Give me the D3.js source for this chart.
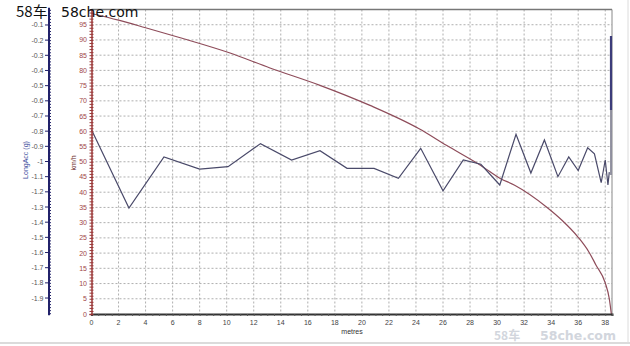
<!DOCTYPE html>
<html>
<head>
<meta charset="utf-8">
<script src="https://cdn.jsdelivr.net/npm/d3@7"></script>
<style>
  body { margin: 0; background: #fff; }
  svg { display: block; font-family: "Liberation Sans", Arial, sans-serif; }
</style>
</head>
<body>
<svg id="chart" width="630" height="346"></svg>
<script>
// speed trace (km/h) against distance
const speedDist = [0, 2, 4, 6.5, 10.25, 13.2, 16.9, 20.6, 24.2, 26.25, 28.96, 30.2, 31.3, 33.7, 34.8, 36, 36.8, 37.3, 38, 38.3, 38.45]
const speedKmh = [98.7, 96.5, 94, 90.8, 85.7, 80.8, 75.1, 68.5, 60.9, 55.4, 48.3, 44.6, 42.3, 35, 30.8, 25.2, 20.3, 16.2, 10.2, 5, 0]

// longitudinal acceleration (g) against distance
const accDist = [0, 2.77, 5.36, 8, 10.1, 12.5, 14.8, 16.9, 18.9, 20.9, 22.7, 24.35, 26, 27.5, 28.8, 30.2, 31.4, 32.5, 33.5, 34.5, 35.3, 36, 36.7, 37.2, 37.7, 38, 38.2, 38.3]
const accG = [-0.79, -1.307, -0.97, -1.05, -1.034, -0.882, -0.99, -0.929, -1.045, -1.045, -1.111, -0.913, -1.193, -0.99, -1.018, -1.155, -0.82, -1.076, -0.858, -1.1, -0.97, -1.06, -0.91, -0.95, -1.14, -0.99, -1.155, -1.07]

// tick labels
const xTicks = d3.range(0, 39, 2)
const speedTicks = d3.range(0, 100, 5)
const accTicks = d3.range(-0.1, -1.95, -0.1).map(v => +v.toFixed(1))

const svg = d3.select('#chart')

const x = d3.scaleLinear().domain([0, 38.5]).range([91.5, 612])
const ySpeed = d3.scaleLinear().domain([0, 100]).range([314, 9.5])
const yAcc = d3.scaleLinear().domain([-2, 0]).range([313.2, 9.8])

// grid
const grid = svg.append('g')
grid.selectAll('.vgrid')
  .data(xTicks.filter(d => d > 0))
  .enter()
  .append('line')
  .attr('x1', d => x(d)).attr('x2', d => x(d))
  .attr('y1', ySpeed(100)).attr('y2', ySpeed(0))
  .attr('stroke', '#9a9a9a')
  .attr('stroke-width', 0.8)
  .attr('stroke-dasharray', '2,2')
grid.selectAll('.hgrid')
  .data(speedTicks.filter(d => d > 0))
  .enter()
  .append('line')
  .attr('x1', x(0)).attr('x2', x(38.5))
  .attr('y1', d => ySpeed(d)).attr('y2', d => ySpeed(d))
  .attr('stroke', '#9a9a9a')
  .attr('stroke-width', 0.8)
  .attr('stroke-dasharray', '2,2')

// frame top / right
svg.append('line')
  .attr('x1', x(0)).attr('x2', x(38.5))
  .attr('y1', ySpeed(100)).attr('y2', ySpeed(100))
  .attr('stroke', '#777').attr('stroke-width', 1.5)
svg.append('line')
  .attr('x1', x(38.5)).attr('x2', x(38.5))
  .attr('y1', ySpeed(100)).attr('y2', ySpeed(0))
  .attr('stroke', '#888').attr('stroke-width', 1)
svg.append('line')
  .attr('x1', x(38.5) - 1).attr('x2', x(38.5) - 1)
  .attr('y1', 36).attr('y2', 110)
  .attr('stroke', '#3c3c7a').attr('stroke-width', 2.2)
svg.append('line')
  .attr('x1', x(38.5) - 1).attr('x2', x(38.5) - 1)
  .attr('y1', 110).attr('y2', 175)
  .attr('stroke', '#8a8a9a').attr('stroke-width', 1.8)

// lines
svg.append('path')
  .datum(d3.zip(speedDist, speedKmh))
  .attr('fill', 'none')
  .attr('stroke', '#8e4c5a')
  .attr('stroke-width', 1.2)
  .attr('d', d3.line().x(d => x(d[0])).y(d => ySpeed(d[1])).curve(d3.curveMonotoneX))

svg.append('path')
  .datum(d3.zip(accDist, accG))
  .attr('fill', 'none')
  .attr('stroke', '#4a4a6a')
  .attr('stroke-width', 1.2)
  .attr('d', d3.line().x(d => x(d[0])).y(d => yAcc(d[1])))

// bottom axis
const xAxis = svg.append('g')
  .attr('transform', `translate(0,${ySpeed(0)})`)
  .call(d3.axisBottom(x).tickValues(d3.range(0, 38.6, 0.5)).tickSize(2).tickFormat(''))
xAxis.select('.domain').attr('stroke', '#333').attr('stroke-width', 2)
xAxis.selectAll('.tick line').attr('stroke', '#555')
svg.append('g').selectAll('text')
  .data(xTicks)
  .enter()
  .append('text')
  .attr('x', d => x(d))
  .attr('y', 325)
  .attr('text-anchor', 'middle')
  .attr('font-size', '7px')
  .attr('fill', '#444')
  .text(d => d)
svg.append('text')
  .attr('x', 352).attr('y', 334)
  .attr('text-anchor', 'middle')
  .attr('font-size', '7px')
  .attr('fill', '#333')
  .text('metres')

// speed axis
const sAxis = svg.append('g')
  .attr('transform', `translate(${x(0)},0)`)
  .call(d3.axisLeft(ySpeed).tickValues(d3.range(0, 100, 1)).tickSize(2).tickFormat(''))
sAxis.select('.domain').attr('stroke', '#9a3838').attr('stroke-width', 1.5)
sAxis.selectAll('.tick line').attr('stroke', '#9a3838').attr('x2', 2).attr('x1', -2)
svg.append('g').selectAll('text')
  .data(speedTicks)
  .enter()
  .append('text')
  .attr('x', 87)
  .attr('y', d => ySpeed(d) + 2.5)
  .attr('text-anchor', 'end')
  .attr('font-size', '7px')
  .attr('fill', '#a04848')
  .text(d => d)
svg.append('text')
  .attr('transform', 'translate(76,163) rotate(-90)')
  .attr('text-anchor', 'middle')
  .attr('font-size', '7px')
  .attr('fill', '#6a2a2a')
  .text('km/h')

// acceleration axis
const aAxis = svg.append('g')
  .attr('transform', 'translate(49,0)')
  .call(d3.axisLeft(yAcc).tickValues(d3.range(-2, 0.001, 0.02)).tickSize(2).tickFormat(''))
aAxis.select('.domain').attr('stroke', '#22226a').attr('stroke-width', 2)
  .attr('d', `M0,${yAcc(0) - 2}V${yAcc(-2) + 2}`)
aAxis.selectAll('.tick line').attr('stroke', '#22226a').attr('x1', 0).attr('x2', 2)
svg.append('g').selectAll('line')
  .data(accTicks)
  .enter()
  .append('line')
  .attr('x1', 45).attr('x2', 49)
  .attr('y1', d => yAcc(d)).attr('y2', d => yAcc(d))
  .attr('stroke', '#22226a')
svg.append('g').selectAll('text')
  .data(accTicks)
  .enter()
  .append('text')
  .attr('x', 43.5)
  .attr('y', d => yAcc(d) + 2.5)
  .attr('text-anchor', 'end')
  .attr('font-size', '7px')
  .attr('fill', '#555')
  .text(d => d === -1 ? '-1' : d)
svg.append('text')
  .attr('transform', 'translate(28,160) rotate(-90)')
  .attr('text-anchor', 'middle')
  .attr('font-size', '7px')
  .attr('fill', '#3a4a9a')
  .text('LongAcc (g)')

// page border
svg.append('line').attr('x1', 0).attr('x2', 630).attr('y1', 343).attr('y2', 343)
  .attr('stroke', '#cfcfcf').attr('stroke-width', 1.5)
svg.append('line').attr('x1', 628).attr('x2', 628).attr('y1', 0).attr('y2', 343)
  .attr('stroke', '#dcdcdc').attr('stroke-width', 1)

// watermarks
svg.append('text')
  .attr('x', 16).attr('y', 17)
  .attr('font-family', '"Noto Sans CJK SC", "Noto Sans", sans-serif')
  .attr('font-size', '15px')
  .attr('fill', '#111')
  .text('58车')
svg.append('text')
  .attr('x', 61).attr('y', 17)
  .attr('font-family', '"DejaVu Sans", sans-serif')
  .attr('font-size', '14px')
  .attr('fill', '#111')
  .text('58che.com')
svg.append('text')
  .attr('x', 494).attr('y', 340)
  .attr('font-family', '"Noto Sans CJK SC", sans-serif')
  .attr('font-weight', 'bold')
  .attr('font-size', '12px')
  .attr('fill', '#d2d6dd')
  .text('58车')
svg.append('text')
  .attr('x', 540).attr('y', 340)
  .attr('font-family', '"DejaVu Sans", sans-serif')
  .attr('font-weight', 'bold')
  .attr('font-size', '12.5px')
  .attr('fill', '#d2d6dd')
  .text('58che.com')
</script>
</body>
</html>
